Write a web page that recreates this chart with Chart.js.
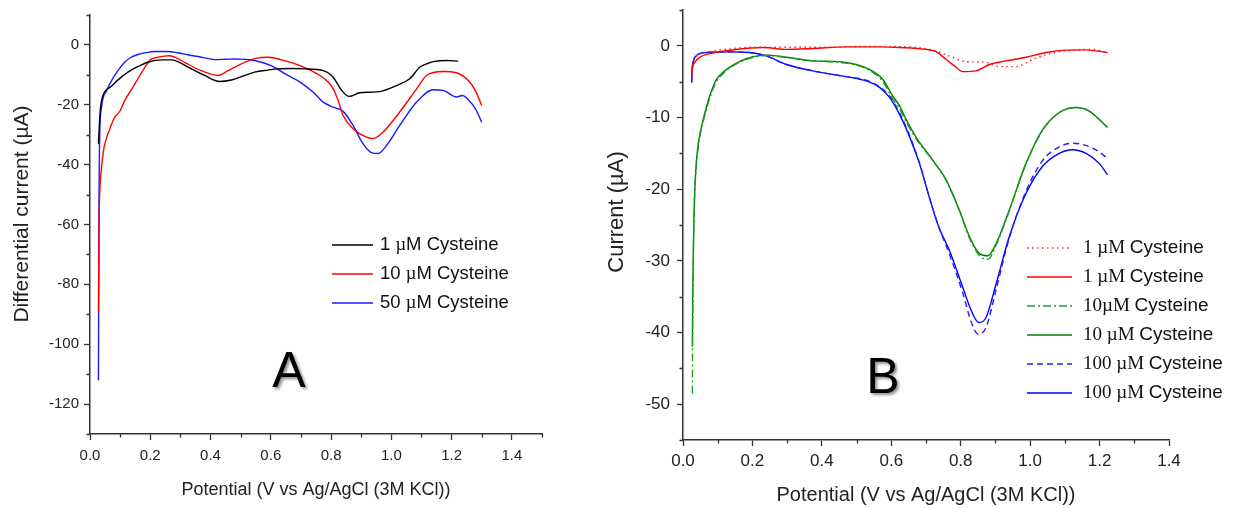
<!DOCTYPE html>
<html><head><meta charset="utf-8">
<script src="https://cdn.jsdelivr.net/npm/chart.js@4"></script>
<style>
html,body{margin:0;padding:0;background:#fff;overflow:hidden;}
#wrapA{position:absolute;left:0;top:0;width:600px;height:508px;}
#wrapB{position:absolute;left:600px;top:0;width:633px;height:508px;}
</style></head><body>
<div id="wrapA"><canvas id="cA"></canvas></div>
<div id="wrapB"><canvas id="cB"></canvas></div>
<script>
// ---------- Panel A data: [potential V, differential current µA] ----------
const a1uM = [[0.028,-33],[0.032,-25],[0.036,-20],[0.043,-16.9],[0.055,-15],[0.071,-13.8],[0.095,-11.5],[0.126,-9.1],[0.16,-7.2],[0.192,-5.8],[0.237,-5],[0.27,-5],[0.3,-6],[0.325,-7.4],[0.38,-10.2],[0.43,-12.2],[0.469,-11.7],[0.51,-10.3],[0.546,-9.1],[0.59,-8.4],[0.624,-8],[0.67,-7.9],[0.712,-8],[0.774,-8.6],[0.807,-10.8],[0.835,-15.2],[0.86,-17.2],[0.895,-16],[0.93,-15.8],[0.962,-15.6],[1.017,-13.6],[1.061,-11.3],[1.095,-7.4],[1.12,-6.2],[1.139,-5.6],[1.183,-5.2],[1.222,-5.4]];
const a10uM = [[0.028,-89],[0.029,-76],[0.030,-60],[0.032,-50],[0.035,-44.7],[0.044,-35.8],[0.055,-31],[0.066,-28],[0.08,-24.5],[0.1,-22],[0.115,-18.6],[0.137,-15],[0.159,-11.3],[0.18,-7.8],[0.2,-5],[0.226,-4.1],[0.264,-3.6],[0.29,-4.5],[0.314,-5.8],[0.369,-8.6],[0.425,-10.2],[0.458,-8.6],[0.513,-5.8],[0.55,-4.5],[0.59,-4.1],[0.657,-5.6],[0.697,-6.9],[0.723,-8],[0.763,-10.2],[0.79,-12.4],[0.807,-14.7],[0.825,-19],[0.84,-23.6],[0.873,-28],[0.918,-30.8],[0.94,-31.3],[0.973,-29.1],[1.0,-26],[1.028,-22.4],[1.084,-14.7],[1.117,-10.2],[1.172,-8.9],[1.216,-9.3],[1.26,-12.4],[1.28,-15.5],[1.3,-20.2]];
const a50uM = [[0.028,-112],[0.029,-80],[0.030,-50],[0.031,-38],[0.033,-27],[0.038,-21],[0.044,-17.5],[0.054,-15.5],[0.066,-13],[0.082,-10.2],[0.1,-7.6],[0.115,-5.8],[0.135,-4.2],[0.159,-3.2],[0.19,-2.5],[0.215,-2.2],[0.259,-2.2],[0.29,-2.6],[0.325,-3.3],[0.37,-4.1],[0.414,-4.9],[0.45,-4.8],[0.48,-4.7],[0.546,-5.2],[0.601,-6.9],[0.657,-10.2],[0.697,-12.4],[0.741,-15.8],[0.774,-19.1],[0.807,-20.8],[0.84,-22.2],[0.873,-26.9],[0.906,-33],[0.934,-36],[0.956,-36.3],[0.984,-33.6],[1.028,-26.9],[1.084,-19.1],[1.139,-15],[1.172,-15.2],[1.216,-17.4],[1.236,-16.9],[1.255,-18.2],[1.28,-21.5],[1.3,-25.8]];
const xTicksA = [0.0,0.2,0.4,0.6,0.8,1.0,1.2,1.4];
const xMinorA = [0.1,0.3,0.5,0.7,0.9,1.1,1.3,1.5];
const yTicksA = [-120,-100,-80,-60,-40,-20,0];
const yMinorA = [-130,-110,-90,-70,-50,-30,-10,10];

// ---------- Panel B data: [potential V, current µA] ----------
const b1uMdot = [[0.027,-3.5],[0.03,-2.2],[0.04,-1.4],[0.07,-0.9],[0.12,-0.5],[0.2,-0.2],[0.3,-0.2],[0.4,-0.2],[0.5,-0.1],[0.6,-0.1],[0.7,-0.4],[0.74,-0.9],[0.777,-1.6],[0.815,-2.2],[0.873,-2.3],[0.911,-2.9],[0.959,-2.9],[1.007,-1.9],[1.065,-1.0],[1.122,-0.6],[1.18,-0.5],[1.223,-0.93]];
const b1uM = [[0.025,-4.4],[0.027,-3.2],[0.034,-2.3],[0.048,-1.6],[0.086,-1.0],[0.144,-0.56],[0.23,-0.23],[0.3,-0.5],[0.374,-0.37],[0.47,-0.14],[0.566,-0.14],[0.623,-0.23],[0.7,-0.5],[0.729,-0.8],[0.758,-1.9],[0.787,-3.0],[0.806,-3.6],[0.844,-3.5],[0.883,-2.6],[0.931,-2.1],[0.988,-1.6],[1.046,-0.93],[1.103,-0.6],[1.161,-0.56],[1.223,-0.93]];
const b10uMdd = [[0.027,-48.5],[0.028,-38],[0.03,-29],[0.032,-24],[0.034,-20.5],[0.038,-17],[0.043,-14.5],[0.05,-12.3],[0.058,-10.6],[0.077,-7.3],[0.096,-5],[0.115,-3.9],[0.134,-3.1],[0.182,-1.9],[0.24,-1.35],[0.298,-1.6],[0.374,-2.1],[0.451,-2.3],[0.499,-2.7],[0.537,-3.4],[0.576,-5.0],[0.604,-7.4],[0.623,-8.7],[0.643,-10.6],[0.672,-13.0],[0.719,-16],[0.758,-18.8],[0.796,-23],[0.825,-26.8],[0.854,-29.3],[0.878,-29.8],[0.902,-27.8],[0.94,-23],[0.988,-16.5],[1.036,-11.8],[1.084,-9.3],[1.132,-8.6],[1.17,-9.1],[1.223,-11.4]];
const b10uM = [[0.027,-42],[0.028,-35],[0.03,-28],[0.032,-23],[0.034,-20],[0.038,-16.5],[0.043,-14],[0.05,-12],[0.058,-10.3],[0.077,-7],[0.096,-4.7],[0.115,-3.7],[0.134,-3.0],[0.182,-1.8],[0.24,-1.3],[0.298,-1.6],[0.374,-2.1],[0.451,-2.2],[0.499,-2.6],[0.537,-3.3],[0.576,-4.7],[0.604,-7.0],[0.623,-8.3],[0.643,-10.3],[0.672,-12.8],[0.719,-15.9],[0.758,-18.7],[0.796,-22.9],[0.825,-26.6],[0.854,-29],[0.878,-29.3],[0.902,-27.6],[0.94,-22.9],[0.988,-16.4],[1.036,-11.7],[1.084,-9.3],[1.132,-8.6],[1.17,-9.1],[1.223,-11.4]];
const b100uMdash = [[0.025,-5.1],[0.026,-3.5],[0.029,-2.3],[0.038,-1.4],[0.067,-0.93],[0.134,-0.84],[0.192,-0.93],[0.24,-1.4],[0.298,-2.6],[0.374,-3.5],[0.47,-4.3],[0.528,-4.8],[0.566,-5.7],[0.595,-7.0],[0.623,-9.3],[0.652,-12.4],[0.681,-16.3],[0.71,-21.2],[0.737,-25.3],[0.767,-29],[0.806,-34.5],[0.83,-38.5],[0.85,-40.2],[0.873,-39.3],[0.902,-34],[0.94,-26.8],[0.988,-20.3],[1.036,-16],[1.084,-14.1],[1.122,-13.6],[1.161,-13.9],[1.199,-14.8],[1.223,-15.7]];
const b100uM = [[0.025,-5.1],[0.026,-3.5],[0.029,-2.3],[0.038,-1.4],[0.067,-0.93],[0.134,-0.84],[0.192,-0.93],[0.24,-1.4],[0.298,-2.6],[0.374,-3.5],[0.47,-4.3],[0.528,-4.9],[0.566,-5.8],[0.595,-7.2],[0.623,-9.5],[0.652,-12.6],[0.681,-16.4],[0.71,-21.2],[0.737,-25.3],[0.767,-28.5],[0.806,-33.7],[0.83,-36.9],[0.852,-38.6],[0.873,-37.9],[0.902,-33.2],[0.94,-26.6],[0.988,-20.6],[1.036,-16.8],[1.084,-15],[1.122,-14.5],[1.161,-15],[1.199,-16.4],[1.223,-18]];
const xTicksB = [0.0,0.2,0.4,0.6,0.8,1.0,1.2,1.4];
const xMinorB = [0.1,0.3,0.5,0.7,0.9,1.1,1.3];
const yTicksB = [-50,-40,-30,-20,-10,0];
const yMinorB = [-55,-45,-35,-25,-15,-5,5];

const SANS = '"Liberation Sans", Arial, sans-serif';
const SERIF = '"Liberation Serif", "Times New Roman", serif';
const toXY = arr => arr.map(p => ({x: p[0], y: p[1]}));

const minorTicks = {
  id: 'minorTicks',
  afterDraw(chart, args, o) {
    const ctx = chart.ctx, x = chart.scales.x, y = chart.scales.y, a = chart.chartArea;
    ctx.save(); ctx.strokeStyle = '#333'; ctx.lineWidth = 1.3;
    ctx.beginPath();
    o.xMinor.forEach(v => { const px = Math.round(x.getPixelForValue(v)) + 0.5; ctx.moveTo(px, a.bottom); ctx.lineTo(px, a.bottom + 3.5); });
    o.yMinor.forEach(v => { const py = Math.round(y.getPixelForValue(v)) + 0.5; ctx.moveTo(a.left, py); ctx.lineTo(a.left - 3.5, py); });
    ctx.stroke(); ctx.restore();
  }
};
const customLegend = {
  id: 'customLegend',
  afterDraw(chart, args, o) {
    const ctx = chart.ctx;
    ctx.save();
    o.items.forEach((it, i) => {
      const ds = chart.data.datasets[it.ds];
      const y = o.y0 + i * o.dy;
      ctx.strokeStyle = ds.borderColor; ctx.lineWidth = 1.5;
      ctx.setLineDash(ds.borderDash || []);
      ctx.beginPath(); ctx.moveTo(o.x0, y); ctx.lineTo(o.x1, y); ctx.stroke();
      ctx.setLineDash([]);
      let x = o.tx;
      ctx.fillStyle = '#111'; ctx.textBaseline = 'middle'; ctx.textAlign = 'left';
      it.parts.forEach(p => { ctx.font = p[1]; ctx.fillText(p[0], x, y); x += ctx.measureText(p[0]).width; });
    });
    ctx.restore();
  }
};
const yTitle = {
  id: 'yTitle',
  afterDraw(chart, args, o) {
    const ctx = chart.ctx;
    ctx.save();
    ctx.translate(o.x, o.y); ctx.rotate(-Math.PI / 2);
    ctx.font = o.font; ctx.fillStyle = '#222'; ctx.textAlign = 'center'; ctx.textBaseline = 'middle';
    ctx.fillText(o.text, 0, 0);
    ctx.restore();
  }
};
const bigLetter = {
  id: 'bigLetter',
  afterDraw(chart, args, o) {
    const ctx = chart.ctx;
    ctx.save();
    ctx.font = o.font; ctx.textAlign = 'center'; ctx.textBaseline = 'alphabetic';
    ctx.shadowColor = 'rgba(0,0,0,0.45)'; ctx.shadowBlur = 3; ctx.shadowOffsetX = 2; ctx.shadowOffsetY = 2;
    ctx.fillStyle = '#000'; ctx.fillText(o.text, o.x, o.y);
    ctx.restore();
  }
};

function axes(cfg) {
  return {
    x: {
      type: 'linear', min: cfg.xmin, max: cfg.xmax,
      afterBuildTicks: s => { s.ticks = cfg.xTicks.map(v => ({value: v})); },
      afterFit: s => { s.height = cfg.xh; s.paddingLeft = 0; s.paddingRight = 0; },
      ticks: {callback: v => Number(v).toFixed(1), font: {family: SANS, size: cfg.tfs}, color: '#222', padding: cfg.xpad, maxRotation: 0, autoSkip: false},
      grid: {drawOnChartArea: false, drawTicks: true, tickLength: 6, tickColor: '#333', tickWidth: 1.3},
      border: {display: true, color: '#333', width: 1.5},
      title: {display: true, text: 'Potential (V vs Ag/AgCl (3M KCl))', font: {family: SANS, size: cfg.titfs}, color: '#222', padding: {top: 0, bottom: cfg.xtpad}}
    },
    y: {
      type: 'linear', min: cfg.ymin, max: cfg.ymax,
      afterBuildTicks: s => { s.ticks = cfg.yTicks.map(v => ({value: v})); },
      afterFit: s => { s.width = cfg.yw; s.paddingTop = 0; s.paddingBottom = 0; },
      ticks: {callback: v => String(v), font: {family: SANS, size: cfg.tfs}, color: '#222', padding: cfg.ypad, autoSkip: false},
      grid: {drawOnChartArea: false, drawTicks: true, tickLength: 6, tickColor: '#333', tickWidth: 1.3},
      border: {display: true, color: '#333', width: 1.5},
      title: {display: false}
    }
  };
}
function ds(label, data, color, dash) {
  return {label, data: toXY(data), borderColor: color, backgroundColor: color, borderWidth: 1.4, borderDash: dash || [], pointRadius: 0, cubicInterpolationMode: 'monotone', fill: false};
}

Chart.defaults.font.family = SANS;

new Chart(document.getElementById('cA'), {
  type: 'line',
  data: {datasets: [
    ds('1 µM Cysteine', a1uM, '#000000'),
    ds('10 µM Cysteine', a10uM, '#ff0000'),
    ds('50 µM Cysteine', a50uM, '#1a1aff')
  ]},
  options: {
    responsive: true, maintainAspectRatio: false, animation: false, devicePixelRatio: 1,
    layout: {padding: {left: 0, top: 15, right: 58, bottom: 0}},
    scales: axes({xmin: 0, xmax: 1.5, ymin: -130, ymax: 10, xTicks: xTicksA, yTicks: yTicksA, xh: 74, yw: 90, tfs: 15, titfs: 18, xpad: 7, ypad: 5, xtpad: 7}),
    plugins: {
      legend: {display: false}, tooltip: {enabled: false},
      minorTicks: {xMinor: xMinorA, yMinor: yMinorA},
      yTitle: {text: 'Differential current (µA)', x: 22, y: 214, font: '21px ' + SANS},
      customLegend: {x0: 332, x1: 373, tx: 380, y0: 245, dy: 29, items: [
        {ds: 0, parts: [['1 ', '18.5px ' + SANS], ['µ', '18.5px ' + SERIF], ['M Cysteine', '18.5px ' + SANS]]},
        {ds: 1, parts: [['10 ', '18.5px ' + SANS], ['µ', '18.5px ' + SERIF], ['M Cysteine', '18.5px ' + SANS]]},
        {ds: 2, parts: [['50 ', '18.5px ' + SANS], ['µ', '18.5px ' + SERIF], ['M Cysteine', '18.5px ' + SANS]]}
      ]},
      bigLetter: {text: 'A', x: 289, y: 387, font: '50px ' + SANS}
    }
  },
  plugins: [minorTicks, yTitle, customLegend, bigLetter]
});

new Chart(document.getElementById('cB'), {
  type: 'line',
  data: {datasets: [
    ds('1 µM Cysteine', b1uMdot, '#ff2020', [1.5, 3.5]),
    ds('1 µM Cysteine', b1uM, '#ff0000'),
    ds('10µM Cysteine', b10uMdd, '#1f9a1f', [8, 3, 2, 3]),
    ds('10 µM Cysteine', b10uM, '#008000'),
    ds('100 µM Cysteine', b100uMdash, '#2020ff', [6, 4]),
    ds('100 µM Cysteine', b100uM, '#0000ff')
  ]},
  options: {
    responsive: true, maintainAspectRatio: false, animation: false, devicePixelRatio: 1,
    layout: {padding: {left: 0, top: 10, right: 64, bottom: 0}},
    scales: axes({xmin: 0, xmax: 1.4, ymin: -55, ymax: 5, xTicks: xTicksB, yTicks: yTicksB, xh: 68, yw: 83, tfs: 17, titfs: 20, xpad: 5, ypad: 7, xtpad: 1}),
    plugins: {
      legend: {display: false}, tooltip: {enabled: false},
      minorTicks: {xMinor: xMinorB, yMinor: yMinorB},
      yTitle: {text: 'Current (µA)', x: 17, y: 212, font: '22px ' + SANS},
      customLegend: {x0: 427, x1: 472, tx: 483, y0: 248, dy: 29, items: [
        {ds: 0, parts: [['1 µM ', '19px ' + SERIF], ['Cysteine', '19px ' + SANS]]},
        {ds: 1, parts: [['1 µM ', '19px ' + SERIF], ['Cysteine', '19px ' + SANS]]},
        {ds: 2, parts: [['10µM ', '19px ' + SERIF], ['Cysteine', '19px ' + SANS]]},
        {ds: 3, parts: [['10 µM ', '19px ' + SERIF], ['Cysteine', '19px ' + SANS]]},
        {ds: 4, parts: [['100 µM ', '19px ' + SERIF], ['Cysteine', '19px ' + SANS]]},
        {ds: 5, parts: [['100 µM ', '19px ' + SERIF], ['Cysteine', '19px ' + SANS]]}
      ]},
      bigLetter: {text: 'B', x: 283, y: 393, font: '50px ' + SANS}
    }
  },
  plugins: [minorTicks, yTitle, customLegend, bigLetter]
});
</script>
</body></html>
